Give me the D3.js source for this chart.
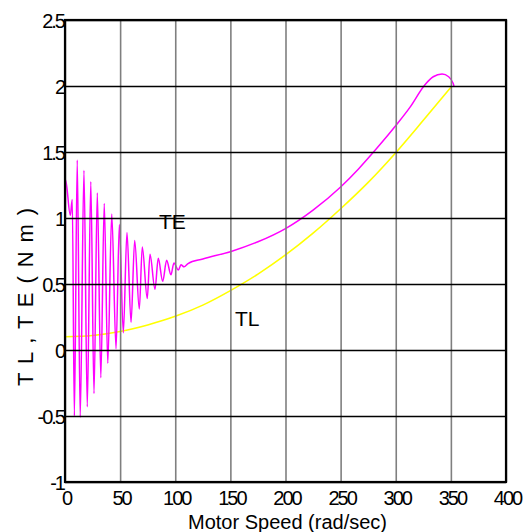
<!DOCTYPE html>
<html>
<head>
<meta charset="utf-8">
<script src="https://cdn.jsdelivr.net/npm/d3@7/dist/d3.min.js"></script>
<style>
  html, body { margin: 0; padding: 0; background: #fff; }
  svg { display: block; }
  text { font-family: "Liberation Sans", Arial, sans-serif; fill: #000; }
</style>
</head>
<body>
<svg id="chart" width="527" height="532"></svg>
<script>
// ---- data ----
const xTickValues = [0, 50, 100, 150, 200, 250, 300, 350, 400];
const xTickLabels = ["0", "50", "100", "150", "200", "250", "300", "350", "400"];
const yTickValues = [-1, -0.5, 0, 0.5, 1, 1.5, 2, 2.5];
const yTickLabels = ["-1", "-0.5", "0", "0.5", "1", "1.5", "2", "2.5"];

// Electromagnetic torque TE vs motor speed (peaks/troughs of the oscillation, then the smooth rise)
const teSpeed = [0, 0.5, 4.8, 6.6, 8.5, 11.1, 13.8, 17.2, 20.2, 23.4,
  26.3, 29.3, 32.5, 35.6, 38.8, 42.4, 46.3, 49.3, 52.9, 56.2,
  59.9, 63.2, 67.4, 70.1, 74.6, 77.1, 81.6, 84.6, 88.6, 92.2,
  96.1, 98.8, 102.8, 105.2, 108, 111.6, 125, 150, 175, 200,
  225, 250, 266, 283, 301, 313, 326.5, 334, 342, 348,
  352, 352.8];
const teTorque = [0, 1.29, 1.02, 1.14, -0.50, 1.44, -0.51, 1.36, -0.43, 1.275,
  -0.33, 1.19, -0.21, 1.11, -0.10, 1.03, 0.01, 0.95, 0.13, 0.89,
  0.21, 0.83, 0.31, 0.78, 0.39, 0.725, 0.46, 0.695, 0.52, 0.68,
  0.57, 0.66, 0.606, 0.645, 0.63, 0.655, 0.69, 0.745, 0.82, 0.92,
  1.06, 1.235, 1.37, 1.53, 1.71, 1.84, 2.01, 2.07, 2.09, 2.07,
  2.02, 2.00];

// Load torque TL vs motor speed
const tlSpeed = [0, 25, 50, 75, 100, 125, 150, 175, 200, 225, 250, 275, 300, 325, 351];
const tlTorque = [0.10, 0.11, 0.14, 0.19, 0.255, 0.34, 0.45, 0.575, 0.72, 0.885, 1.07, 1.27, 1.495, 1.74, 2.00];

const xTitle = "Motor Speed (rad/sec)";
const yTitle = "T L , T E   ( N m )";

// ---- layout ----
const svg = d3.select("#chart");
const L = 65, R = 506, T = 20, B = 482;
const x = d3.scaleLinear().domain([0, 400]).range([L, R]);
const y = d3.scaleLinear().domain([-1, 2.5]).range([B, T]);

const teData = teSpeed.map((s, i) => [s, teTorque[i]]);
const tlData = tlSpeed.map((s, i) => [s, tlTorque[i]]);

const line = d3.line().x(d => x(d[0])).y(d => y(d[1])).curve(d3.curveMonotoneX);

svg.append("defs").append("clipPath").attr("id", "plotclip")
  .append("rect").attr("x", L).attr("y", T).attr("width", R - L).attr("height", B - T);

const curves = svg.append("g").attr("clip-path", "url(#plotclip)");
curves.append("path").datum(tlData).attr("d", line)
  .attr("fill", "none").attr("stroke", "#ffff00").attr("stroke-width", 1.6);
curves.append("path").datum(teData).attr("d", line)
  .attr("fill", "none").attr("stroke", "#ff00ff").attr("stroke-width", 1.5);

// grid (vertical grey, horizontal black)
const gx = svg.append("g").attr("transform", `translate(0,${B})`)
  .call(d3.axisBottom(x).tickValues(xTickValues).tickSize(-(B - T)).tickFormat((d, i) => xTickLabels[i]).tickPadding(8));
gx.select(".domain").remove();
gx.selectAll(".tick line").attr("stroke", "#7f7f7f").attr("stroke-width", 1.6);
gx.selectAll(".tick text").attr("font-size", 20).attr("letter-spacing", "-2px")
  .attr("font-family", "Liberation Sans, Arial, sans-serif").attr("dy", "0.75em").attr("dx", "1px");

const gy = svg.append("g").attr("transform", `translate(${L},0)`)
  .call(d3.axisLeft(y).tickValues(yTickValues).tickSize(-(R - L)).tickFormat((d, i) => yTickLabels[i]).tickPadding(1));
gy.select(".domain").remove();
gy.selectAll(".tick line").attr("stroke", "#000").attr("stroke-width", 1.6);
gy.selectAll(".tick text").attr("font-size", 20).attr("letter-spacing", "-2px")
  .attr("font-family", "Liberation Sans, Arial, sans-serif").attr("dy", "0.36em");

// frame
svg.append("rect").attr("x", L).attr("y", T).attr("width", R - L).attr("height", B - T)
  .attr("fill", "none").attr("stroke", "#000").attr("stroke-width", 2.2);

// titles
svg.append("text").attr("x", (L + R) / 2 + 2).attr("y", 529)
  .attr("text-anchor", "middle").attr("font-size", 20).text(xTitle);
svg.append("text").attr("transform", "translate(33,386) rotate(-90)")
  .attr("text-anchor", "start").attr("font-size", 22).attr("letter-spacing", "1.4px").text(yTitle);

// curve labels
svg.append("text").attr("x", 159).attr("y", 229).attr("font-size", 21).text("TE");
svg.append("text").attr("x", 235).attr("y", 326).attr("font-size", 21).text("TL");
</script>
</body>
</html>
